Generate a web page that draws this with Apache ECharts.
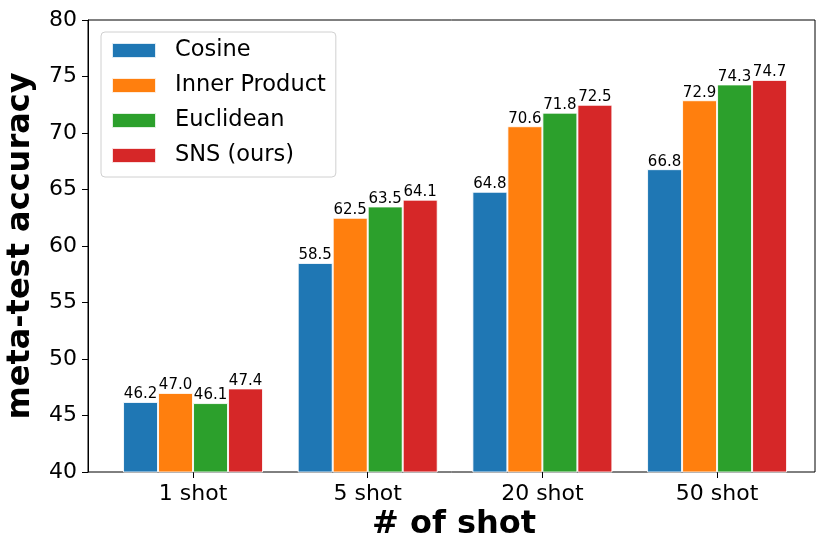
<!DOCTYPE html>
<html>
<head>
<meta charset="utf-8">
<script src="https://cdn.jsdelivr.net/npm/echarts@6/dist/echarts.min.js"></script>
<style>html,body{margin:0;padding:0;background:#fff}#c{width:830px;height:556px}</style>
</head>
<body>
<div id="c"></div>
<script>
const categories = ['1 shot', '5 shot', '20 shot', '50 shot'];
const seriesNames = ['Cosine', 'Inner Product', 'Euclidean', 'SNS (ours)'];
const cosine = [46.2, 58.5, 64.8, 66.8];
const innerProduct = [47.0, 62.5, 70.6, 72.9];
const euclidean = [46.1, 63.5, 71.8, 74.3];
const sns = [47.4, 64.1, 72.5, 74.7];
const colors = ['#1f77b4', '#ff7f0e', '#2ca02c', '#d62728'];
const allValues = [cosine, innerProduct, euclidean, sns];

const font = 'DejaVu Sans';
const chart = echarts.init(document.getElementById('c'));
const series = allValues.map((vals, i) => ({
  name: seriesNames[i],
  type: 'bar',
  xAxisIndex: 1,
  yAxisIndex: 1,
  data: vals,
  barWidth: 35,
  barGap: '0%',
  itemStyle: { color: colors[i], borderColor: 'rgba(255,255,255,0.85)', borderWidth: 1 },
  label: {
    show: true, position: 'top', distance: 0,
    formatter: p => p.value.toFixed(1),
    fontFamily: font, fontSize: 15, color: '#000'
  }
}));

chart.setOption({
  animation: false,
  backgroundColor: '#fff',
  color: colors,
  textStyle: { fontFamily: font },
  grid: [
    { left: 88, right: 15, top: 20, bottom: 84, show: true, borderColor: '#000', borderWidth: 1, backgroundColor: 'transparent' },
    { left: 105.7, right: 25.6, top: 20, bottom: 84 }
  ],
  xAxis: [
    { type: 'value', gridIndex: 0, min: 0, max: 1, show: false },
    {
      type: 'category', gridIndex: 1, data: categories,
      axisLine: { show: false },
      axisTick: { show: true, alignWithLabel: true, length: 6, lineStyle: { color: '#000' } },
      axisLabel: { fontFamily: font, fontSize: 22, color: '#000', margin: 11 }
    }
  ],
  yAxis: [
    {
      type: 'value', gridIndex: 0, min: 40, max: 80, interval: 5,
      axisLine: { show: true, lineStyle: { color: '#000' } },
      axisTick: { show: true, length: 6, lineStyle: { color: '#000' } },
      splitLine: { show: false },
      axisLabel: { fontFamily: font, fontSize: 22, color: '#000', margin: 11 }
    },
    { type: 'value', gridIndex: 1, min: 40, max: 80, interval: 5, show: false, splitLine: { show: false } }
  ],
  legend: {
    orient: 'vertical', left: 101, top: 32,
    data: seriesNames,
    icon: 'rect', itemWidth: 44, itemHeight: 15, itemGap: 12,
    padding: [7, 10, 10, 10],
    backgroundColor: '#fff', borderColor: '#d0d0d0', borderWidth: 1, borderRadius: 4,
    textStyle: { fontFamily: font, fontSize: 22.5, color: '#000', lineHeight: 22, padding: [0, 0, 0, 14] }
  },
  graphic: [
    { type: 'text', x: 454, y: 525, style: { text: '# of shot', font: 'bold 32px "DejaVu Sans"', fill: '#000', textAlign: 'center', textVerticalAlign: 'middle' } },
    { type: 'text', x: 21, y: 246, rotation: Math.PI / 2, style: { text: 'meta-test accuracy', font: 'bold 32px "DejaVu Sans"', fill: '#000', textAlign: 'center', textVerticalAlign: 'middle' } }
  ],
  series: series
});
</script>
</body>
</html>
